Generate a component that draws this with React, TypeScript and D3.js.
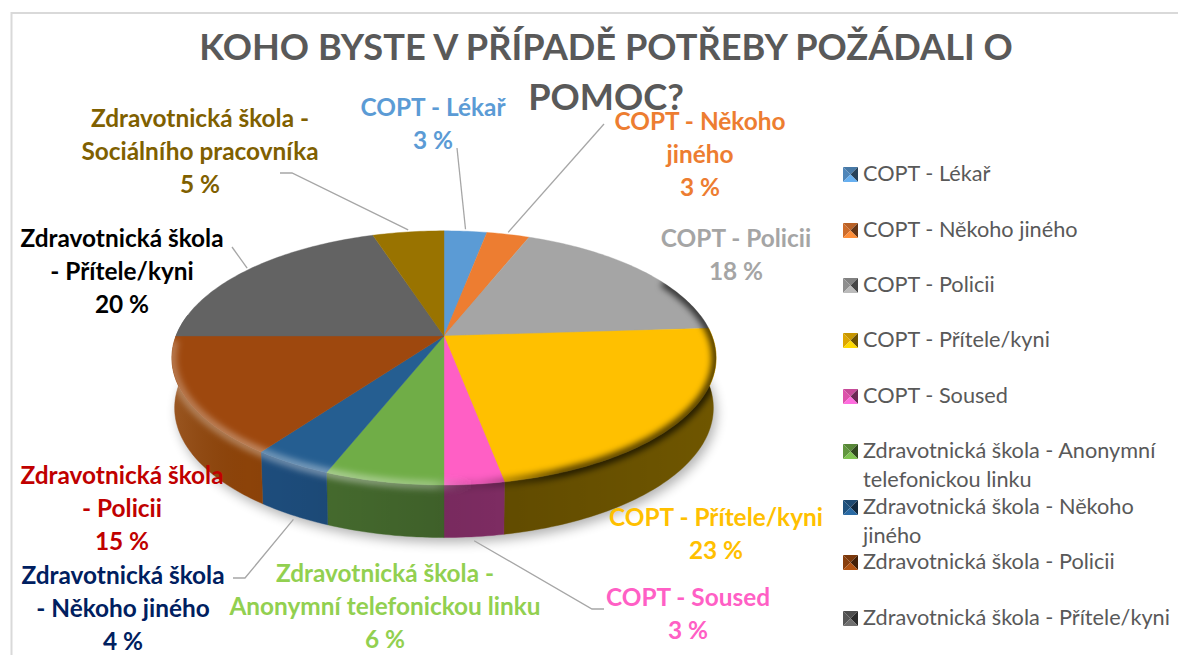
import React from "react";
import * as d3 from "d3";

const categories = [
  "COPT - Lékař", "COPT - Někoho jiného", "COPT - Policii", "COPT - Přítele/kyni", "COPT - Soused",
  "Zdravotnická škola - Anonymní telefonickou linku", "Zdravotnická škola - Někoho jiného",
  "Zdravotnická škola - Policii", "Zdravotnická škola - Přítele/kyni", "Zdravotnická škola - Sociálního pracovníka",
];
const values = [3, 3, 18, 23, 3, 6, 4, 15, 20, 5];
const sliceColors = ["#5b9bd5", "#ed7d31", "#a5a5a5", "#ffc000", "#ff5fc5", "#70ad47", "#255e91", "#9e480e", "#636363", "#997300"];
const sideColors = ["#3f6f9a", "#a85820", "#7a7a7a", "#6f5600", "#8f3270", "#4a7231", "#1e4f80", "#8f4409", "#474747", "#6b5100"];
const labelColors = ["#5b9bd5", "#ed7d31", "#a5a5a5", "#ffc000", "#ff5fc5", "#92d050", "#002060", "#c00000", "#000000", "#7f6000"];
const titleLines = ["KOHO BYSTE V PŘÍPADĚ POTŘEBY POŽÁDALI O", "POMOC?"];
const labelLines = [
  ["COPT - Lékař", "3 %"],
  ["COPT - Někoho", "jiného", "3 %"],
  ["COPT - Policii", "18 %"],
  ["COPT - Přítele/kyni", "23 %"],
  ["COPT - Soused", "3 %"],
  ["Zdravotnická škola -", "Anonymní telefonickou linku", "6 %"],
  ["Zdravotnická škola", "- Někoho jiného", "4 %"],
  ["Zdravotnická škola", "- Policii", "15 %"],
  ["Zdravotnická škola", "- Přítele/kyni", "20 %"],
  ["Zdravotnická škola -", "Sociálního pracovníka", "5 %"],
];
const legendLines = [
  ["COPT - Lékař"], ["COPT - Někoho jiného"], ["COPT - Policii"], ["COPT - Přítele/kyni"], ["COPT - Soused"],
  ["Zdravotnická škola - Anonymní", "telefonickou linku"], ["Zdravotnická škola - Někoho", "jiného"],
  ["Zdravotnická škola - Policii"], ["Zdravotnická škola - Přítele/kyni"],
];

// layout only
const labelX = [433, 700, 736, 716, 688, 385, 123, 122, 122, 200];
const labelY = [116, 130, 247, 526, 606, 582, 584, 484, 247, 127];
const labelStep = 33;
const legendY = [173, 229, 284, 339, 395, 450, 506, 561, 617];
const leaderEnds: (number[][] | null)[] = [
  [[457, 148]], [[604, 124]], null, null,
  [[592, 609], [604, 609]], null,
  [[245, 578], [233, 578]], null,
  [[232, 247]], [[292, 173], [280, 173]],
];

const FONT = "Lato, 'Open Sans', sans-serif";
const cx = 444, cy = 358, e = 0.1725, A = 268, B = 127.1, C = -22;
const depth = 50;

function project(a: number, r = 1, h = 0): [number, number] {
  const u = Math.sin(a) * r, v = -Math.cos(a) * r;
  const w = 1 - e * v;
  const X = (A * u) / w, Y = (B * v + C) / w;
  return h ? [cx + X * 0.99, cy + Y * 1.02 + h] : [cx + X, cy + Y];
}

const line = d3.line();
const arcs = d3.pie<number>().sort(null).startAngle(0).endAngle(2 * Math.PI)(values);
const deg = Math.PI / 180;
const sideFrom = 80 * deg, sideTo = 280 * deg;

function samples(a0: number, a1: number) {
  const n = Math.max(2, Math.ceil((a1 - a0) / deg));
  return d3.range(n + 1).map((i) => a0 + ((a1 - a0) * i) / n);
}
function topPath(a0: number, a1: number) {
  return line([project(0, 0), ...samples(a0, a1).map((a) => project(a))]) + "Z";
}
function sidePath(a0: number, a1: number) {
  const s = samples(a0, a1);
  return line([...s.map((a) => project(a)), ...s.slice().reverse().map((a) => project(a, 1, depth))]) + "Z";
}
const fullTop = line(samples(0, 2 * Math.PI).map((a) => project(a))) + "Z";
const fullBottom = line(samples(0, 2 * Math.PI).map((a) => project(a, 1, depth))) + "Z";
const rimPath = line(samples(62 * deg, 268 * deg).map((a) => project(a)));

function LegendIcon({ x, y, color }: { x: number; y: number; color: string }) {
  const s = 15, c = d3.color(color)!;
  const p = (pts: number[][]) => pts.map((q) => `${x + q[0]},${y + q[1]}`).join(" ");
  const m = [s / 2, s / 2];
  return (
    <g>
      <polygon points={p([[0, 0], [s, 0], m])} fill={c.darker(0.7).formatHex()} />
      <polygon points={p([[0, 0], [0, s], m])} fill={c.darker(0.4).formatHex()} />
      <polygon points={p([[s, 0], [s, s], m])} fill={c.darker(2.4).formatHex()} />
      <polygon points={p([[0, s], [s, s], m])} fill={c.brighter(0.35).formatHex()} />
    </g>
  );
}

export default function App() {
  return (
    <svg width={1178} height={655} style={{ position: "absolute", left: 0, top: 0, background: "#fff" }} fontFamily={FONT}>
      <defs>
        <filter id="soft" x="-20%" y="-20%" width="140%" height="140%"><feGaussianBlur stdDeviation="6" /></filter>
        <filter id="rimBlur" x="-10%" y="-10%" width="120%" height="120%"><feGaussianBlur stdDeviation="3" /></filter>
        <linearGradient id="sideShade" gradientUnits="userSpaceOnUse" x1={172} x2={716} y1={0} y2={0}>
          <stop offset="0" stopColor="#fff" stopOpacity="0.1" />
          <stop offset="0.14" stopColor="#000" stopOpacity="0.02" />
          <stop offset="0.5" stopColor="#000" stopOpacity="0.16" />
          <stop offset="1" stopColor="#000" stopOpacity="0" />
        </linearGradient>
        <linearGradient id="rimGrad" gradientUnits="userSpaceOnUse" x1={172} x2={716} y1={0} y2={0}>
          <stop offset="0" stopColor="#fff" stopOpacity="0.28" />
          <stop offset="0.3" stopColor="#fff" stopOpacity="0.4" />
          <stop offset="0.48" stopColor="#fff" stopOpacity="0.3" />
          <stop offset="0.56" stopColor="#000" stopOpacity="0.1" />
          <stop offset="0.72" stopColor="#000" stopOpacity="0.65" />
          <stop offset="1" stopColor="#000" stopOpacity="0.7" />
        </linearGradient>
        <clipPath id="pieClip"><path d={fullTop} /><path d={sidePath(sideFrom, sideTo)} /></clipPath>
      </defs>
      <path d="M11.5 655V13H1178" fill="none" stroke="#d9d9d9" strokeWidth={2} />

      <path d={fullBottom} fill="#000" opacity={0.3} filter="url(#soft)" transform="translate(3,5)" />
      {arcs.map((d, i) => {
        const a0 = Math.max(d.startAngle, sideFrom), a1 = Math.min(d.endAngle, sideTo);
        return a1 > a0 ? <path key={i} d={sidePath(a0, a1)} fill={sideColors[i]} stroke={sideColors[i]} strokeWidth={0.4} /> : null;
      })}
      <path d={sidePath(sideFrom, sideTo)} fill="url(#sideShade)" />
      {arcs.map((d, i) => (
        <path key={i} d={topPath(d.startAngle, d.endAngle)} fill={sliceColors[i]} stroke={sliceColors[i]} strokeWidth={0.4} />
      ))}
      <g clipPath="url(#pieClip)">
        <path d={rimPath!} fill="none" stroke="url(#rimGrad)" strokeWidth={9} filter="url(#rimBlur)" />
      </g>

      {arcs.map((d, i) => {
        const ends = leaderEnds[i];
        if (!ends) return null;
        const mid = (d.startAngle + d.endAngle) / 2;
        const front = Math.cos(mid) < 0;
        const start = project(mid, 1, front ? depth + 4 : 0);
        const p0: [number, number] = front ? start : [start[0], start[1] - 2];
        return <path key={i} d={line([p0, ...(ends as [number, number][])])!} fill="none" stroke="#a6a6a6" strokeWidth={1.3} />;
      })}

      <g fill="#595959" fontWeight={700} fontSize={36.2} textAnchor="middle">
        {titleLines.map((t, i) => <text key={t} x={606} y={60 + i * 50}>{t}</text>)}
      </g>

      <g fontWeight={700} fontSize={24.4} textAnchor="middle">
        {labelLines.map((lines, i) => (
          <text key={i} fill={labelColors[i]}>
            {lines.map((t, j) => <tspan key={j} x={labelX[i]} y={labelY[i] + j * labelStep}>{t}</tspan>)}
          </text>
        ))}
      </g>

      <g fontSize={21.7} fill="#595959">
        {legendLines.map((lines, i) => (
          <g key={i}>
            <LegendIcon x={843} y={legendY[i] - 6} color={sliceColors[i]} />
            <text>
              {lines.map((t, j) => <tspan key={j} x={863} y={legendY[i] + 8 + j * 29}>{t}</tspan>)}
            </text>
          </g>
        ))}
      </g>
    </svg>
  );
}
